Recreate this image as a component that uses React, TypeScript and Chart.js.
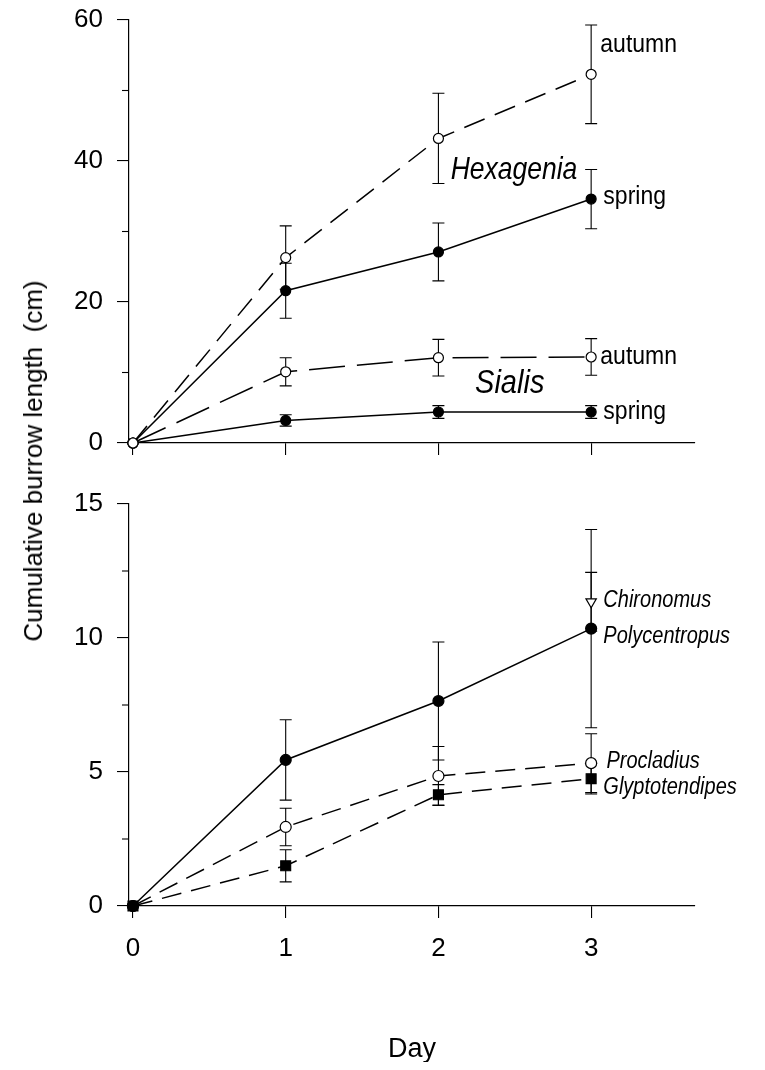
import React, { useEffect, useRef } from 'react';
import { Chart, registerables } from 'chart.js';

Chart.register(...registerables);

const FONT = "'Liberation Sans', Arial, Helvetica, sans-serif";

// ---- data ----
const days = [0, 1, 2, 3];

const topYTicks = [0, 20, 40, 60];
const topYMinor = [10, 30, 50];
const botYTicks = [0, 5, 10, 15];
const botYMinor = [2.5, 7.5, 12.5];

// Hexagenia
const hexAutumn = [0, 26.3, 43.2, 52.3];
const hexAutumnErr = [0, 4.5, 6.4, 7.0];
const hexSpring = [0, 21.6, 27.1, 34.6];
const hexSpringErr = [0, 3.9, 4.1, 4.2];
// Sialis
const sialisAutumn = [0, 10.1, 12.1, 12.2];
const sialisAutumnErr = [0, 2.0, 2.6, 2.6];
const sialisSpring = [0, 3.2, 4.4, 4.4];
const sialisSpringErr = [0, 0.8, 0.9, 0.9];

// bottom panel
const polycentropus = [0, 5.45, 7.65, 10.35];
const polycentropusErr = [0, 1.5, 2.2, 3.7];
const chironomus = [null, null, null, 11.35];
const chironomusErr = [null, null, null, 1.1];
const procladius = [0, 2.95, 4.85, 5.33];
const procladiusErr = [0, 0.7, 1.1, 1.1];
const glyptotendipes = [0, 1.5, 4.15, 4.75];
const glyptotendipesErr = [0, 0.6, 0.38, 0.57];

// text labels (data units)
const topLabels = [
  { text: 'autumn', x: 3.06, y: 56.5, italic: false, size: 23 },
  { text: 'Hexagenia', x: 2.08, y: 38.7, italic: true, size: 26.5 },
  { text: 'spring', x: 3.08, y: 34.9, italic: false, size: 23 },
  { text: 'autumn', x: 3.06, y: 12.2, italic: false, size: 23 },
  { text: 'Sialis', x: 2.24, y: 8.4, italic: true, size: 29 },
  { text: 'spring', x: 3.08, y: 4.5, italic: false, size: 23 },
];
const bottomLabels = [
  { text: 'Chironomus', x: 3.08, y: 11.4, italic: true, size: 20 },
  { text: 'Polycentropus', x: 3.08, y: 10.04, italic: true, size: 20 },
  { text: 'Procladius', x: 3.1, y: 5.37, italic: true, size: 20 },
  { text: 'Glyptotendipes', x: 3.08, y: 4.4, italic: true, size: 20 },
];

const X_MIN = -0.026;
const X_MAX = 3.68;
const TEXT_STRETCH = 1.15;

function series(vals: (number | null)[], errs: (number | null)[]) {
  const data: { x: number; y: number }[] = [];
  const errors: number[] = [];
  vals.forEach((v, i) => {
    if (v === null || v === undefined) return;
    data.push({ x: days[i], y: v });
    errors.push((errs[i] as number) || 0);
  });
  return { data, errors };
}

const errorBarPlugin = {
  id: 'errorBars',
  beforeDatasetsDraw(chart: any) {
    const ctx = chart.ctx;
    const xs = chart.scales.x;
    const ys = chart.scales.y;
    ctx.save();
    ctx.strokeStyle = '#000';
    ctx.lineWidth = 1.1;
    chart.data.datasets.forEach((ds: any) => {
      if (!ds.errors) return;
      ds.data.forEach((p: any, i: number) => {
        const e = ds.errors[i];
        if (!e) return;
        const px = xs.getPixelForValue(p.x);
        const t = ys.getPixelForValue(p.y + e);
        const b = ys.getPixelForValue(p.y - e);
        ctx.beginPath();
        ctx.moveTo(px, t);
        ctx.lineTo(px, b);
        ctx.moveTo(px - 6, t);
        ctx.lineTo(px + 6, t);
        ctx.moveTo(px - 6, b);
        ctx.lineTo(px + 6, b);
        ctx.stroke();
      });
    });
    ctx.restore();
  },
};

function makeMinorPlugin(values: number[]) {
  return {
    id: 'minorTicks',
    afterDraw(chart: any) {
      const ctx = chart.ctx;
      const ys = chart.scales.y;
      const left = chart.chartArea.left;
      ctx.save();
      ctx.strokeStyle = '#000';
      ctx.lineWidth = 1.1;
      values.forEach((v) => {
        const y = ys.getPixelForValue(v);
        ctx.beginPath();
        ctx.moveTo(left - 7, y);
        ctx.lineTo(left, y);
        ctx.stroke();
      });
      ctx.restore();
    },
  };
}

function makeTextPlugin(items: { text: string; x: number; y: number; italic: boolean; size: number }[]) {
  return {
    id: 'textLabels',
    afterDatasetsDraw(chart: any) {
      const ctx = chart.ctx;
      const xs = chart.scales.x;
      const ys = chart.scales.y;
      items.forEach((it) => {
        const px = xs.getPixelForValue(it.x);
        const py = ys.getPixelForValue(it.y);
        ctx.save();
        ctx.fillStyle = '#000';
        ctx.font = `${it.italic ? 'italic ' : ''}${it.size}px ${FONT}`;
        ctx.textAlign = 'left';
        ctx.textBaseline = 'middle';
        ctx.translate(px, py);
        ctx.scale(1, TEXT_STRETCH);
        ctx.fillText(it.text, 0, 0);
        ctx.restore();
      });
    },
  };
}

function buildConfig(opts: {
  datasets: any[];
  yMin: number;
  yMax: number;
  yTicks: number[];
  yMinor: number[];
  showXLabels: boolean;
  xAxisHeight: number;
  padTop: number;
  labels: any[];
  xTitle: string | null;
}): any {
  return {
    type: 'scatter',
    data: { datasets: opts.datasets },
    options: {
      animation: false,
      responsive: false,
      events: [],
      layout: { padding: { top: opts.padTop, right: 62, left: 0, bottom: 0 } },
      plugins: { legend: { display: false }, tooltip: { enabled: false } },
      scales: {
        x: {
          type: 'linear',
          min: X_MIN,
          max: X_MAX,
          afterBuildTicks: (s: any) => {
            s.ticks = days.map((v) => ({ value: v }));
          },
          afterFit: (s: any) => {
            s.height = opts.xAxisHeight;
            s.paddingLeft = 0;
            s.paddingRight = 0;
          },
          grid: { drawOnChartArea: false, drawTicks: true, tickLength: 12, color: '#000', lineWidth: 1.1 },
          border: { display: true, color: '#000', width: 1.2 },
          ticks: {
            display: opts.showXLabels,
            padding: 15,
            color: '#000',
            font: { family: FONT, size: 26 },
            callback: (v: any) => String(v),
          },
          title: {
            display: !!opts.xTitle,
            text: opts.xTitle || '',
            color: '#000',
            font: { family: FONT, size: 27, lineHeight: 0.9 },
            padding: 0,
          },
        },
        y: {
          type: 'linear',
          min: opts.yMin,
          max: opts.yMax,
          afterBuildTicks: (s: any) => {
            s.ticks = opts.yTicks.map((v) => ({ value: v }));
          },
          afterFit: (s: any) => {
            s.width = 121;
            s.paddingTop = 0;
            s.paddingBottom = 0;
          },
          grid: { drawOnChartArea: false, drawTicks: true, tickLength: 12, color: '#000', lineWidth: 1.1 },
          border: { display: true, color: '#000', width: 1.2 },
          ticks: {
            padding: 14,
            color: '#000',
            font: { family: FONT, size: 26 },
            callback: (v: any) => String(v),
          },
        },
      },
    },
    plugins: [errorBarPlugin, makeMinorPlugin(opts.yMinor), makeTextPlugin(opts.labels)],
  };
}

function lineDs(s: { data: any[]; errors: number[] }, o: any) {
  return {
    data: s.data,
    errors: s.errors,
    showLine: o.showLine !== false,
    borderColor: '#000',
    borderWidth: 1.5,
    borderDash: o.dash || [],
    pointStyle: o.pointStyle || 'circle',
    pointRadius: o.radius,
    pointRotation: o.rotation || 0,
    pointBackgroundColor: o.filled ? '#000' : '#fff',
    pointBorderColor: '#000',
    pointBorderWidth: 1.2,
    tension: 0,
    clip: false,
  };
}

export default function App() {
  const topRef = useRef<HTMLCanvasElement | null>(null);
  const botRef = useRef<HTMLCanvasElement | null>(null);

  useEffect(() => {
    const topDatasets = [
      lineDs(series(hexAutumn, hexAutumnErr), { dash: [22, 11], filled: false, radius: 5 }),
      lineDs(series(sialisAutumn, sialisAutumnErr), { dash: [36, 12], filled: false, radius: 5 }),
      lineDs(series(hexSpring, hexSpringErr), { filled: true, radius: 5 }),
      lineDs(series(sialisSpring, sialisSpringErr), { filled: true, radius: 5 }),
    ];
    const botDatasets = [
      lineDs(series(polycentropus, polycentropusErr), { filled: true, radius: 5.5 }),
      lineDs(series(glyptotendipes, glyptotendipesErr), { dash: [20, 10], filled: true, radius: 7, pointStyle: 'rect' }),
      lineDs(series(procladius, procladiusErr), { dash: [20, 10], filled: false, radius: 5.5 }),
      lineDs(series(chironomus, chironomusErr), { showLine: false, filled: false, radius: 6, pointStyle: 'triangle', rotation: 180 }),
    ];

    const c1 = new Chart(
      topRef.current as HTMLCanvasElement,
      buildConfig({
        datasets: topDatasets,
        yMin: 0,
        yMax: 60,
        yTicks: topYTicks,
        yMinor: topYMinor,
        showXLabels: false,
        xAxisHeight: 37,
        padTop: 12,
        labels: topLabels,
        xTitle: null,
      })
    );
    const c2 = new Chart(
      botRef.current as HTMLCanvasElement,
      buildConfig({
        datasets: botDatasets,
        yMin: 0,
        yMax: 15,
        yTicks: botYTicks,
        yMinor: botYMinor,
        showXLabels: true,
        xAxisHeight: 156,
        padTop: 24,
        labels: bottomLabels,
        xTitle: 'Day',
      })
    );
    return () => {
      c1.destroy();
      c2.destroy();
    };
  }, []);

  return (
    <div style={{ position: 'relative', width: 749, height: 1054, fontFamily: FONT }}>
      <canvas ref={topRef} width={749} height={472} style={{ position: 'absolute', left: 0, top: 0, width: 749, height: 472 }} />
      <canvas ref={botRef} width={749} height={582} style={{ position: 'absolute', left: 0, top: 472, width: 749, height: 582 }} />
      <div
        style={{
          position: 'absolute',
          left: 25,
          top: 453,
          transform: 'translate(-50%, -50%) rotate(-90deg)',
          whiteSpace: 'pre',
          fontSize: 26,
          lineHeight: 1,
          color: '#000',
        }}
      >
        {'Cumulative burrow length  (cm)'}
      </div>
    </div>
  );
}
